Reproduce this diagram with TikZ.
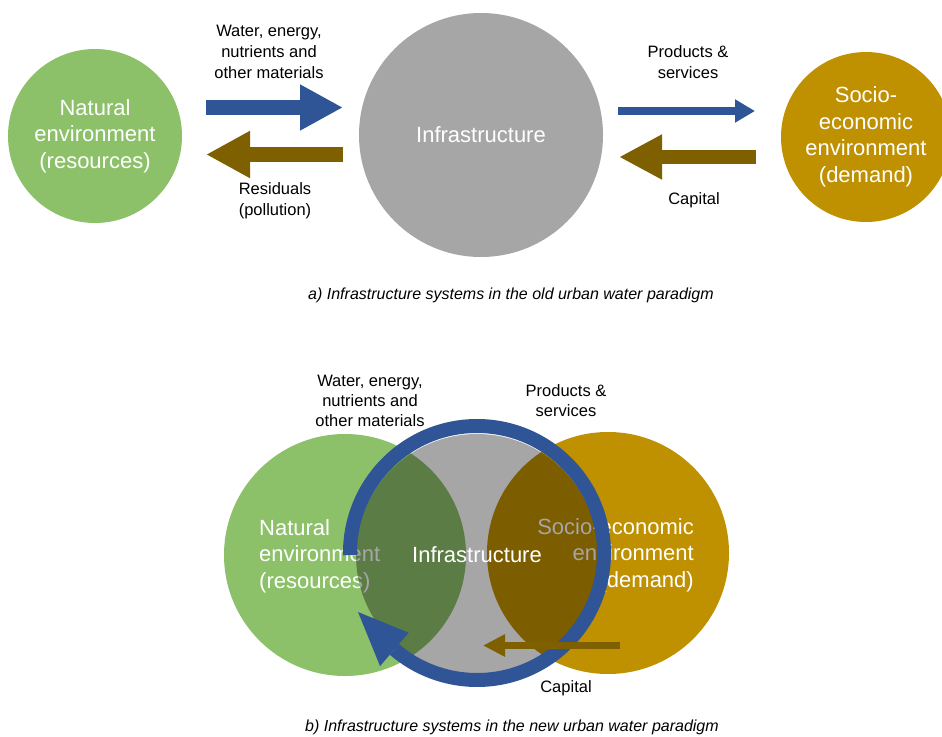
\documentclass[tikz,border=0pt]{standalone}
\usepackage{fontspec}
\setmainfont{Liberation Sans}
\usetikzlibrary{arrows.meta,calc}
\definecolor{natgreen}{HTML}{8CC16A}
\definecolor{infgray}{HTML}{A6A6A6}
\definecolor{socgold}{HTML}{BF9000}
\definecolor{flowblue}{HTML}{2F5597}
\definecolor{flowbrown}{HTML}{7F6000}
\begin{document}
\begin{tikzpicture}[x=1pt,y=-1pt,
  disc/.style={circle, minimum size=#1, inner sep=0pt, draw=none},
  ctext/.style={text=white, font=\fontsize{22}{26.5}\selectfont, align=center, inner sep=0pt},
  lbl/.style={text=black, font=\fontsize{16.5}{21}\selectfont, align=center, inner sep=0pt},
  lblb/.style={lbl, font=\fontsize{16.5}{20}\selectfont},
  capt/.style={text=black, font=\fontsize{16}{19}\selectfont\itshape, inner sep=0pt},
  flow/.style={line cap=butt, line width=#1},
]
\useasboundingbox[fill=white] (0,0) rectangle (942,736);

% ---------- a) old paradigm ----------
\node[disc=174pt, fill=natgreen, ctext] (nat) at (95,136) {Natural\\environment\\(resources)};
\node[disc=244pt, fill=infgray, ctext] (inf) at (481,135) {Infrastructure};
\node[disc=170pt, fill=socgold, ctext] (soc) at (866,137) {Socio-\\economic\\environment\\(demand)};

\coordinate (w0) at (206,107.5);  \coordinate (w1) at (343,107.5);
\coordinate (r0) at (343,154.5);  \coordinate (r1) at (206,154.5);
\coordinate (p0) at (618,111);    \coordinate (p1) at (755,111);
\coordinate (c0) at (756,157);    \coordinate (c1) at (619,157);
\draw[flow=15pt, flowblue, -{Triangle[length=43pt,width=43pt]}] (w0) -- (w1);
\draw[flow=15pt, flowbrown, -{Triangle[length=44pt,width=44pt]}] (r0) -- (r1);
\draw[flow=8pt, flowblue, -{Triangle[length=20pt,width=22pt]}] (p0) -- (p1);
\draw[flow=14pt, flowbrown, -{Triangle[length=43pt,width=42pt]}] (c0) -- (c1);

\node[lbl] (lw) at (269,52) {Water, energy,\\nutrients and\\other materials};
\node[lbl] (lr) at (275,200.5) {Residuals\\(pollution)};
\node[lbl] (lp) at (688,62.5) {Products \&\\services};
\node[lbl] (lc) at (694,200) {Capital};
\node[capt] (capa) at (511,295) {a) Infrastructure systems in the old urban water paradigm};

% ---------- b) new paradigm ----------
\node[disc=242pt, fill=natgreen] (nat2) at (345,555) {};
\node[disc=242pt, fill=socgold] (soc2) at (608,553) {};
\node[ctext, align=left, anchor=west] (nattext) at (259,556) {Natural\\environment\\(resources)};
\node[ctext, align=right, anchor=east] (soctext) at (694,555) {Socio-economic\\environment\\(demand)};
\begin{scope}[blend mode=multiply]
\node[disc=242pt, fill=infgray] (inf2) at (477,555) {};
\end{scope}
\node[ctext] (inftext) at (477,555) {Infrastructure};

% circular flow
\coordinate (rc) at (477,553);
\draw[flow=14pt, flowblue] ($(rc)+(179:127)$) arc[start angle=179, end angle=490.6, radius=127];
\coordinate (tipA) at ($(rc)+(130.6:149)$);
\coordinate (tipB) at ($(rc)+(130.6:105)$);
\coordinate (tipC) at (358,612);
\fill[flowblue] (tipA) -- (tipB) -- (tipC) -- cycle;

\coordinate (k0) at (620,645.5); \coordinate (k1) at (483,645.5);
\draw[flow=7.5pt, flowbrown, -{Triangle[length=22pt,width=21pt]}] (k0) -- (k1);

\node[lblb] (lw2) at (370,400.5) {Water, energy,\\nutrients and\\other materials};
\node[lblb] (lp2) at (566,401) {Products \&\\services};
\node[lblb] (lc2) at (566,688) {Capital};
\node[capt] (capb) at (512,727) {b) Infrastructure systems in the new urban water paradigm};
\end{tikzpicture}
\end{document}
